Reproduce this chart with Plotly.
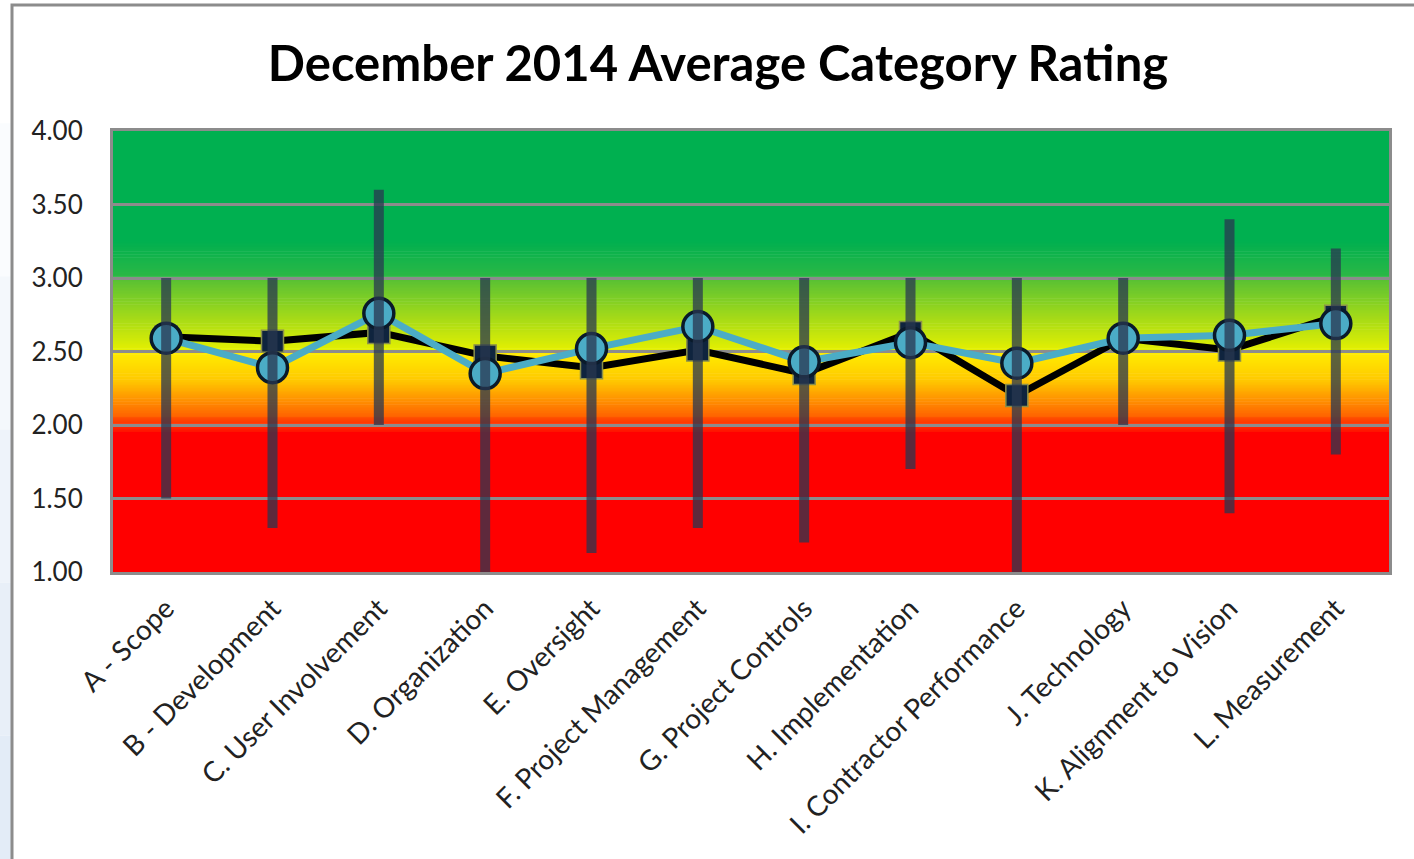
import plotly.graph_objects as go

categories = ["A - Scope", "B - Development", "C. User Involvement", "D. Organization",
              "E. Oversight", "F. Project Management", "G. Project Controls",
              "H. Implementation", "I. Contractor Performance", "J. Technology",
              "K. Alignment to Vision", "L. Measurement"]
range_low = [1.50, 1.30, 2.00, 1.00, 1.13, 1.30, 1.20, 1.70, 1.00, 2.00, 1.40, 1.80]
range_high = [3.00, 3.00, 3.60, 3.00, 3.00, 3.00, 3.00, 3.00, 3.00, 3.00, 3.40, 3.20]
series_black = [2.60, 2.57, 2.63, 2.47, 2.39, 2.51, 2.35, 2.63, 2.20, 2.59, 2.51, 2.74]
series_blue = [2.59, 2.39, 2.76, 2.35, 2.52, 2.67, 2.43, 2.56, 2.42, 2.59, 2.61, 2.69]
y_ticks = [1.0, 1.5, 2.0, 2.5, 3.0, 3.5, 4.0]

W, H = 1414, 859
L, R, T, B = 113, 1389, 131, 572

def px_x(p):
    return (p - L) / (R - L)

def px_y(p):
    return (B - p) / (B - T)

def hex2rgb(h):
    h = h.lstrip("#")
    return tuple(int(h[i:i + 2], 16) for i in (0, 2, 4))

def lerp(c1, c2, t):
    a, b = hex2rgb(c1), hex2rgb(c2)
    return "rgb(%d,%d,%d)" % tuple(round(a[i] + (b[i] - a[i]) * t) for i in range(3))

shapes = []
# left background strip
strip = ["#FFFFFF", "#FAFCFE", "#F4F8FC", "#EEF3FA", "#E8EFF8", "#E3ECF7"]
n = len(strip)
for i, c in enumerate(strip):
    shapes.append(dict(type="rect", xref="paper", yref="paper", layer="below",
                       x0=px_x(-20), x1=px_x(13), y0=px_y((i + 1) * (H + 60) / n - 30),
                       y1=px_y(i * (H + 60) / n - 30), fillcolor=c, line=dict(width=0)))
# outer frame
shapes.append(dict(type="rect", xref="paper", yref="paper", layer="below",
                   x0=px_x(12), x1=px_x(W + 30), y0=px_y(H + 30), y1=px_y(5),
                   fillcolor="white", line=dict(color="#8C8C8C", width=3)))

# background gradient segments (value, colour)
segments = [
    (4.00, 3.25, "#00B050", "#00B050"),
    (3.25, 3.00, "#00B050", "#2DB845"),
    (3.00, 2.50, "#55C035", "#E6F000"),
    (2.50, 2.30, "#FFEE00", "#FFC800"),
    (2.30, 2.05, "#FFC800", "#FF6000"),
    (2.05, 1.95, "#FF5000", "#FF1000"),
    (1.95, 1.00, "#FF0000", "#FF0000"),
]
for top, bot, c1, c2 in segments:
    steps = max(1, int(round((top - bot) / 0.01)))
    if c1 == c2:
        steps = 1
    for k in range(steps):
        y1 = top - (top - bot) * k / steps
        y0 = top - (top - bot) * (k + 1) / steps
        col = lerp(c1, c2, (k + 0.5) / steps)
        shapes.append(dict(type="rect", xref="paper", yref="y", layer="below",
                           x0=0, x1=1, y0=y0 - 0.002, y1=y1 + 0.002,
                           fillcolor=col, line=dict(width=0)))

fig = go.Figure()

fig.add_trace(go.Scatter(
    x=categories, y=series_black, mode="lines+markers",
    line=dict(color="black", width=7),
    marker=dict(symbol="square", size=22, color="#0F243E",
                line=dict(color="#8A8F4A", width=1.5)),
    showlegend=False, cliponaxis=False))

fig.add_trace(go.Scatter(
    x=categories, y=series_blue, mode="lines+markers",
    line=dict(color="#4BACC6", width=7),
    marker=dict(symbol="circle", size=30, color="#4BACC6",
                line=dict(color="#0A1A2A", width=3.5)),
    showlegend=False, cliponaxis=False))

bx, by = [], []
for c, lo, hi in zip(categories, range_low, range_high):
    bx += [c, c, None]
    by += [lo, hi, None]
fig.add_trace(go.Scatter(
    x=bx, y=by, mode="lines", line=dict(color="rgba(40,55,80,0.75)", width=10),
    showlegend=False, hoverinfo="skip"))

fig.update_layout(
    width=W, height=H,
    margin=dict(l=L, r=W - R, t=T, b=H - B),
    paper_bgcolor="white", plot_bgcolor="rgba(0,0,0,0)",
    shapes=shapes,
    title=dict(text="<b>December 2014 Average Category Rating</b>",
               x=718 / W, xanchor="center",
               y=1 - 64 / H, yanchor="middle", yref="container",
               font=dict(family="Lato", size=49, color="black")),
    font=dict(family="Lato", color="#222222"),
)
fig.update_xaxes(
    type="category", categoryorder="array", categoryarray=categories,
    range=[-0.5, len(categories) - 0.5],
    showgrid=False, tickangle=-45, tickfont=dict(size=28, family="Lato", color="#222"),
    showline=True, linecolor="#8C8C8C", linewidth=3, mirror=True,
    ticks="", ticklabelstandoff=6)
fig.update_yaxes(
    range=[1, 4], tickvals=y_ticks, tickformat=".2f",
    showgrid=True, gridcolor="#8C8C8C", gridwidth=2.5,
    zeroline=False, tickfont=dict(size=26, family="Lato", color="#222"),
    showline=True, linecolor="#8C8C8C", linewidth=3, mirror=True,
    ticks="", ticklabelstandoff=22)

fig.write_html("out.html", config={"displayModeBar": False},
               post_script="document.body.style.margin='0';document.body.style.overflow='hidden';")
